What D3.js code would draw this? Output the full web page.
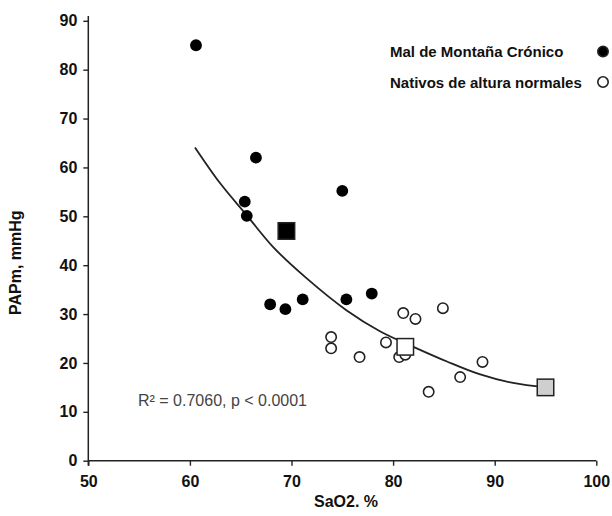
<!DOCTYPE html>
<html>
<head>
<meta charset="utf-8">
<script src="https://cdn.jsdelivr.net/npm/d3@7"></script>
<style>
  html, body { margin: 0; padding: 0; background: #fff; }
  svg { display: block; font-family: "Liberation Sans", Arial, sans-serif; }
</style>
</head>
<body>
<svg id="chart" width="612" height="516"></svg>
<script>
// Mal de Montaña Crónico (círculos negros)
const mmcSat = [60.6, 66.5, 65.4, 65.6, 67.9, 69.4, 71.1, 75.4, 77.9, 75.0];
const mmcPap = [85.0, 62.0, 53.0, 50.1, 32.0, 31.0, 33.0, 33.0, 34.2, 55.2];

// Nativos de altura normales (círculos blancos)
const natSat = [73.9, 73.9, 76.7, 79.3, 80.6, 81.2, 81.0, 82.2, 84.9, 83.5, 86.6, 88.8];
const natPap = [25.3, 23.0, 21.2, 24.2, 21.2, 21.7, 30.2, 29.0, 31.2, 14.1, 17.1, 20.2];

// Promedios (cuadrados): MMC, nativos, nivel del mar
const meanSat = [69.5, 81.2, 95.0];
const meanPap = [47.0, 23.3, 15.0];
const meanFill = ["#000", "#fff", "#cfcfcf"];

// Curva de regresión
const curveSat = [60.5, 63.0, 65.6, 68.2, 71.5, 75.4, 78.7, 82.0, 85.3, 88.5, 91.8, 95.0];
const curvePap = [64.1, 56.7, 50.2, 43.7, 37.3, 30.8, 26.5, 23.3, 20.3, 17.7, 15.9, 15.0];

const xTicks = [50, 60, 70, 80, 90, 100];
const yTicks = [0, 10, 20, 30, 40, 50, 60, 70, 80, 90];

const legendItems = [
  { label: "Mal de Montaña Crónico", fill: "#000" },
  { label: "Nativos de altura normales", fill: "#fff" },
];

const svg = d3.select("#chart");
const ink = "#222";

const x = d3.scaleLinear().domain([50, 100]).range([88.3, 596.3]);
const y = d3.scaleLinear().domain([0, 90]).range([460.7, 20.8]);

// Ejes
const gx = svg.append("g").attr("transform", `translate(0,${y(0)})`)
  .call(d3.axisBottom(x).tickValues(xTicks).tickSize(5).tickPadding(10).tickSizeOuter(0));
const gy = svg.append("g").attr("transform", `translate(${x(50)},0)`)
  .call(d3.axisLeft(y).tickValues(yTicks).tickSize(5).tickPadding(6).tickSizeOuter(0));
[gx, gy].forEach((g) => {
  g.select(".domain").remove();
  g.selectAll("line").attr("stroke", ink).attr("stroke-width", 1.4);
  g.selectAll("text").attr("fill", "#111").style("font-size", "16px").style("font-weight", "bold");
});
svg.append("line")
  .attr("x1", x(50)).attr("x2", x(100)).attr("y1", y(0)).attr("y2", y(0))
  .attr("stroke", ink).attr("stroke-width", 1.5);
svg.append("line")
  .attr("x1", x(50)).attr("x2", x(50)).attr("y1", y(0) + 5).attr("y2", y(91))
  .attr("stroke", ink).attr("stroke-width", 1.5);

// Títulos de ejes
svg.append("text")
  .attr("transform", `translate(21,${(y(0) + y(90)) / 2 + 22}) rotate(-90)`)
  .attr("text-anchor", "middle").style("font-size", "16px").style("font-weight", "bold")
  .attr("fill", "#111").text("PAPm, mmHg");
svg.append("text")
  .attr("x", 346).attr("y", 507)
  .attr("text-anchor", "middle").style("font-size", "16px").style("font-weight", "bold")
  .attr("fill", "#111").text("SaO2. %");

// Curva
const line = d3.line().x((d) => x(d[0])).y((d) => y(d[1])).curve(d3.curveCatmullRom);
svg.append("path")
  .datum(d3.zip(curveSat, curvePap))
  .attr("d", line).attr("fill", "none").attr("stroke", ink).attr("stroke-width", 1.8);

// Puntos
svg.append("g").selectAll("circle").data(d3.zip(natSat, natPap)).join("circle")
  .attr("cx", (d) => x(d[0])).attr("cy", (d) => y(d[1])).attr("r", 5.2)
  .attr("fill", "#fff").attr("stroke", ink).attr("stroke-width", 1.6);
svg.append("g").selectAll("circle").data(d3.zip(mmcSat, mmcPap)).join("circle")
  .attr("cx", (d) => x(d[0])).attr("cy", (d) => y(d[1])).attr("r", 5.9)
  .attr("fill", "#000");

// Promedios
const sq = 16.5;
svg.append("g").selectAll("rect").data(d3.zip(meanSat, meanPap, meanFill)).join("rect")
  .attr("x", (d) => x(d[0]) - sq / 2).attr("y", (d) => y(d[1]) - sq / 2)
  .attr("width", sq).attr("height", sq)
  .attr("fill", (d) => d[2]).attr("stroke", ink).attr("stroke-width", 1.5);

// R²
svg.append("text")
  .attr("x", 138).attr("y", 406)
  .style("font-family", "'Liberation Sans Narrow', 'Liberation Sans', sans-serif")
  .style("font-size", "16px").attr("fill", "#444")
  .text("R² = 0.7060, p < 0.0001");

// Leyenda
legendItems.forEach((l, i) => {
  const ly = 57 + i * 30.5;
  svg.append("text").attr("x", 390).attr("y", ly)
    .style("font-size", "15px").style("font-weight", "bold").attr("fill", "#111")
    .text(l.label);
  svg.append("circle").attr("cx", 603).attr("cy", ly - 5.5).attr("r", 5.2)
    .attr("fill", l.fill).attr("stroke", ink).attr("stroke-width", 1.6);
});
</script>
</body>
</html>
